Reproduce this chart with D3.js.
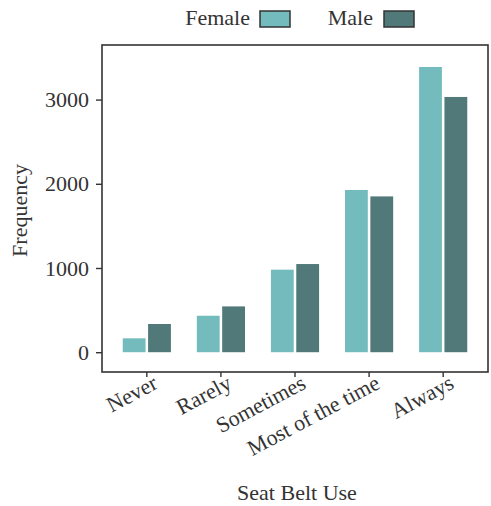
<!DOCTYPE html>
<html><head><meta charset="utf-8">
<script src="https://cdn.jsdelivr.net/npm/d3@7"></script>
<style>body{margin:0;background:#fff}</style>
</head><body>
<script>
const categories = ["Never","Rarely","Sometimes","Most of the time","Always"];
const seriesNames = ["Female","Male"];
const female = [165, 433, 980, 1926, 3387];
const male = [335, 544, 1047, 1850, 3031];
const yTicks = [0, 1000, 2000, 3000];
const colors = {Female:"#74bbbe", Male:"#52797a"};

const W = 491, H = 506;
const panel = {left:102, right:488, top:45, bottom:372};
const font = "'Liberation Serif','Times New Roman',serif";
const txt = "#333";

const svg = d3.select("body").append("svg").attr("width",W).attr("height",H);

const x = d3.scaleBand().domain(categories).range([panel.left,panel.right])
  .paddingInner(0.35).paddingOuter(0.28);
const xs = d3.scaleBand().domain(seriesNames).range([0,x.bandwidth()]).paddingInner(0.1);
const y = d3.scaleLinear().domain([-235,3648]).range([panel.bottom,panel.top]);

const data = categories.map((c,i)=>({cat:c, Female:female[i], Male:male[i]}));

const g = svg.append("g");
g.selectAll("g.cat").data(data).join("g").attr("class","cat")
  .attr("transform",d=>`translate(${x(d.cat)},0)`)
  .selectAll("rect").data(d=>seriesNames.map(s=>({s, v:d[s]}))).join("rect")
  .attr("x",d=>xs(d.s)).attr("width",xs.bandwidth())
  .attr("y",d=>y(d.v)).attr("height",d=>y(0)-y(d.v))
  .attr("fill",d=>colors[d.s]);

// panel border
svg.append("rect").attr("x",panel.left).attr("y",panel.top)
  .attr("width",panel.right-panel.left).attr("height",panel.bottom-panel.top)
  .attr("fill","none").attr("stroke","#333").attr("stroke-width",1.6);

// y axis
const yAxis = svg.append("g").attr("transform",`translate(${panel.left},0)`)
  .call(d3.axisLeft(y).tickValues(yTicks).tickFormat(d3.format("d")).tickSize(6).tickPadding(7));
yAxis.select(".domain").remove();
yAxis.selectAll("line").attr("stroke","#333").attr("stroke-width",1.4);
yAxis.selectAll("text").attr("font-family",font).attr("font-size",22).attr("fill",txt);

// x axis
const xAxis = svg.append("g").attr("transform",`translate(0,${panel.bottom})`)
  .call(d3.axisBottom(x).tickSize(5).tickPadding(0));
xAxis.select(".domain").remove();
xAxis.selectAll("line").attr("stroke","#333").attr("stroke-width",1.4);
xAxis.selectAll("text").attr("font-family",font).attr("font-size",22).attr("fill",txt)
  .attr("text-anchor","end").attr("dy",null).attr("y",null)
  .attr("transform","translate(5,2) rotate(-28)")
  .attr("dy","0.7em");

// axis titles
svg.append("text").attr("x",(panel.left+panel.right)/2+2).attr("y",500)
  .attr("text-anchor","middle").attr("font-family",font).attr("font-size",22).attr("fill",txt)
  .text("Seat Belt Use");
svg.append("text").attr("transform",`translate(27,${(panel.top+panel.bottom)/2+2}) rotate(-90)`)
  .attr("text-anchor","middle").attr("font-family",font).attr("font-size",22).attr("fill",txt)
  .text("Frequency");

// legend
const legendItems = [{s:"Female", tx:250, bx:260},{s:"Male", tx:373, bx:384}];
const lg = svg.append("g");
legendItems.forEach(it=>{
  lg.append("text").attr("x",it.tx).attr("y",25).attr("text-anchor","end")
    .attr("font-family",font).attr("font-size",22).attr("fill",txt).text(it.s);
  lg.append("rect").attr("x",it.bx).attr("y",11).attr("width",30).attr("height",16)
    .attr("fill",colors[it.s]).attr("stroke","#333").attr("stroke-width",1.5);
});
</script>
</body></html>
